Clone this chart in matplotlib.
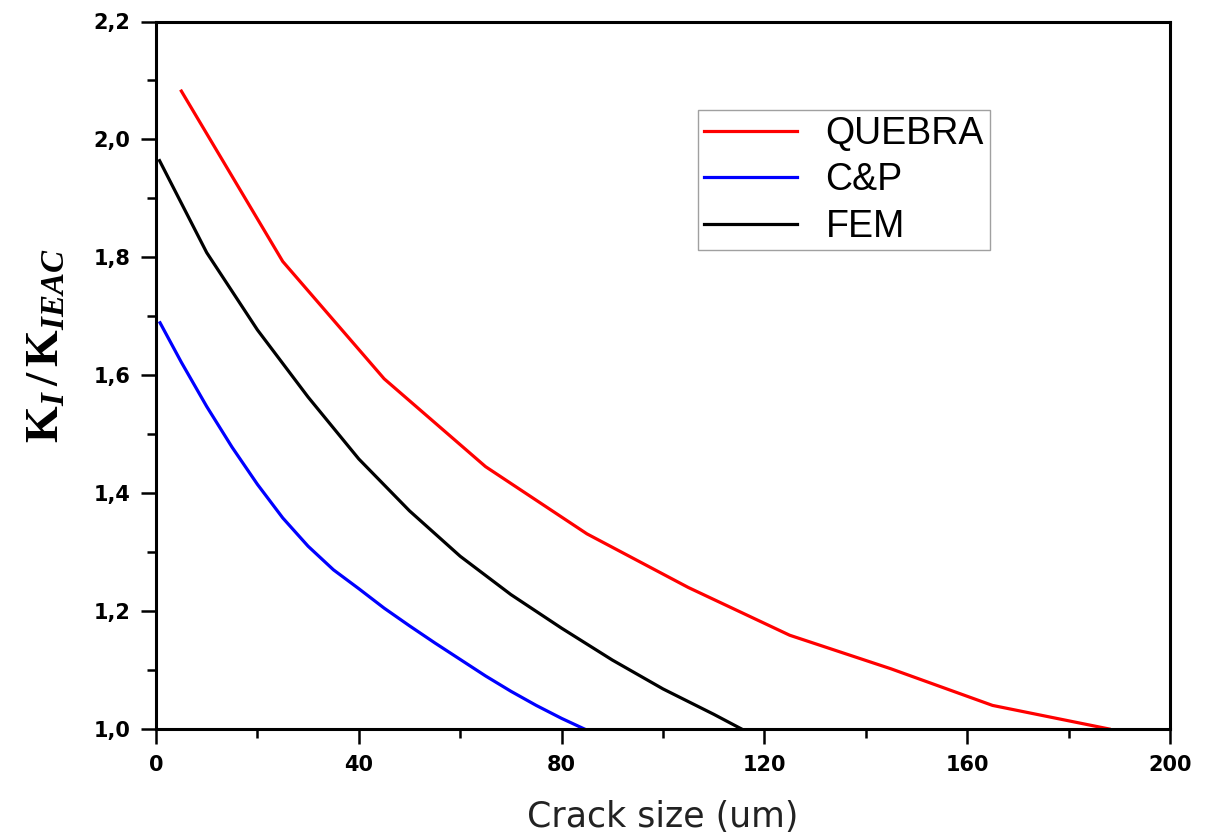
import matplotlib
matplotlib.use("Agg")
import matplotlib.pyplot as plt
from matplotlib.ticker import MultipleLocator, FixedLocator, FixedFormatter

# ---- data ----
x_quebra = [5, 25, 45, 65, 85, 105, 125, 145, 165, 188]
y_quebra = [2.082, 1.793, 1.594, 1.445, 1.331, 1.240, 1.159, 1.102, 1.040, 1.0]

x_cp = [0.8, 5, 10, 15, 20, 25, 30, 35, 40, 45, 50, 55, 60, 65, 70, 75, 80, 84.5]
y_cp = [1.689, 1.622, 1.547, 1.478, 1.415, 1.358, 1.310, 1.270, 1.238, 1.205,
        1.175, 1.146, 1.118, 1.090, 1.064, 1.040, 1.018, 1.0]

x_fem = [0.7, 10, 20, 30, 40, 50, 60, 70, 80, 90, 100, 110, 115.5]
y_fem = [1.964, 1.808, 1.677, 1.563, 1.458, 1.370, 1.293, 1.228, 1.171, 1.117, 1.068, 1.025, 1.0]

series_names = ["QUEBRA", "C&P", "FEM"]
series_colors = ["#ff0000", "#0000ff", "#000000"]

x_ticks = [0, 40, 80, 120, 160, 200]
x_tick_labels = ["0", "40", "80", "120", "160", "200"]
y_ticks = [1.0, 1.2, 1.4, 1.6, 1.8, 2.0, 2.2]
y_tick_labels = ["1,0", "1,2", "1,4", "1,6", "1,8", "2,0", "2,2"]

x_label = "Crack size (um)"
y_label = r"$\mathrm{K}_{I}\,/\,\mathrm{K}_{IEAC}$"

# ---- style ----
plt.rcParams['font.family'] = ['DejaVu Sans']
plt.rcParams['mathtext.fontset'] = 'custom'
plt.rcParams['mathtext.rm'] = 'Liberation Serif:bold'
plt.rcParams['mathtext.it'] = 'Liberation Serif:bold:italic'
plt.rcParams['mathtext.bf'] = 'Liberation Serif:bold'

W, H = 1215, 839
fig = plt.figure(figsize=(W / 100, H / 100), dpi=100)
L, R, T, B = 156, 1170, 21.5, 729
ax = fig.add_axes([L / W, 1 - B / H, (R - L) / W, (B - T) / H])

lw = 2.3
ax.plot(x_quebra, y_quebra, color=series_colors[0], lw=lw, label=series_names[0])
ax.plot(x_cp, y_cp, color=series_colors[1], lw=lw, label=series_names[1])
ax.plot(x_fem, y_fem, color=series_colors[2], lw=lw, label=series_names[2])

ax.set_xlim(0, 200)
ax.set_ylim(1.0, 2.2)

ax.xaxis.set_major_locator(FixedLocator(x_ticks))
ax.xaxis.set_major_formatter(FixedFormatter(x_tick_labels))
ax.xaxis.set_minor_locator(MultipleLocator(20))
ax.yaxis.set_major_locator(FixedLocator(y_ticks))
ax.yaxis.set_major_formatter(FixedFormatter(y_tick_labels))
ax.yaxis.set_minor_locator(MultipleLocator(0.1))

for s in ax.spines.values():
    s.set_linewidth(2.2)
    s.set_color('black')

ax.tick_params(which='major', direction='out', length=10.5, width=1.8, pad=8,
               labelsize=15, top=False, right=False)
ax.tick_params(which='minor', direction='out', length=6.5, width=1.8,
               top=False, right=False)
for lab in ax.get_xticklabels() + ax.get_yticklabels():
    lab.set_fontweight('bold')
    lab.set_family('DejaVu Sans')

ax.set_xlabel(x_label, fontsize=25, color='#222222')
ax.xaxis.label.set_va('baseline')
ax.xaxis.set_label_coords(0.5, (B - 827) / (B - T))

fig.text(46 / W, 1 - 346 / H, y_label, rotation=90, ha='center', va='center',
         fontsize=34)

leg = ax.legend(loc='upper left', bbox_to_anchor=(698 / W, 1 - 110 / H),
                bbox_transform=fig.transFigure,
                prop={'family': 'Liberation Sans', 'size': 27}, frameon=True,
                fancybox=False, borderaxespad=0, borderpad=0.15,
                labelspacing=0.28, handlelength=2.5, handletextpad=0.75)
leg.get_frame().set_edgecolor('#888888')
leg.get_frame().set_linewidth(1.0)

fig.savefig("out.png", dpi=100)
